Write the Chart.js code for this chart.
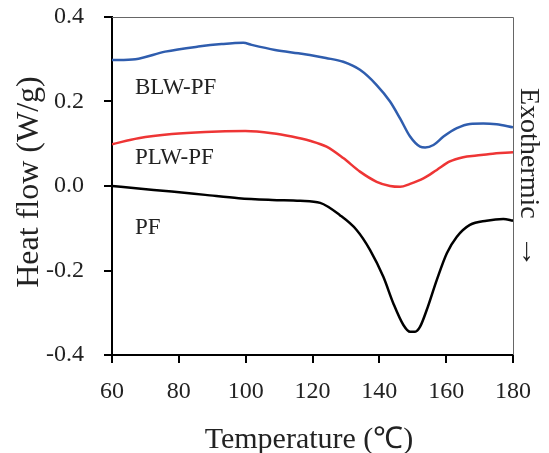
<!DOCTYPE html>
<html>
<head>
<meta charset="utf-8">
<script src="https://cdn.jsdelivr.net/npm/chart.js@4.4.1/dist/chart.umd.min.js"></script>
<style>
html,body{margin:0;padding:0;background:#fff;}
#c{display:block;}
</style>
</head>
<body>
<canvas id="c" width="549" height="453"></canvas>
<script>
// Temperature (°C) and heat flow (W/g)
const blwT = [60, 67, 75.9, 85.8, 92.8, 99.3, 101.8, 108.8, 115.8, 119.2, 124, 129.2, 134.2, 139.2, 143.2, 146.2, 149.2, 152.2, 153.7, 156.2, 159.2, 163.2, 167.1, 171.1, 175.1, 180];
const blwV = [0.298, 0.300, 0.318, 0.330, 0.336, 0.339, 0.334, 0.322, 0.314, 0.310, 0.303, 0.294, 0.275, 0.239, 0.200, 0.160, 0.117, 0.093, 0.091, 0.097, 0.117, 0.137, 0.147, 0.148, 0.146, 0.139];

const plwT = [60, 67.9, 77.9, 87.9, 99.9, 107.9, 113.8, 119.2, 124.2, 129.2, 134.2, 139.2, 143.2, 146.2, 149.2, 153.2, 157.2, 161.1, 165.1, 169.1, 173.1, 180];
const plwV = [0.099, 0.113, 0.123, 0.128, 0.130, 0.125, 0.117, 0.107, 0.093, 0.066, 0.034, 0.010, 0.000, -0.002, 0.005, 0.018, 0.038, 0.058, 0.068, 0.072, 0.076, 0.080];

const pfT = [60, 67.9, 77.9, 87.9, 97.9, 107.9, 116.3, 122.3, 128.2, 133.2, 137.2, 141.2, 144.2, 147.2, 149.2, 150.7, 152.2, 154.2, 157.2, 160.2, 163.2, 167.1, 172.1, 177.1, 180];
const pfV = [0.000, -0.006, -0.013, -0.021, -0.029, -0.033, -0.035, -0.040, -0.069, -0.104, -0.151, -0.215, -0.278, -0.329, -0.345, -0.345, -0.333, -0.293, -0.222, -0.159, -0.120, -0.092, -0.082, -0.078, -0.082];

const seriesNames = ['BLW-PF', 'PLW-PF', 'PF'];
const xTitle = 'Temperature (℃)';
const yTitle = 'Heat flow (W/g)';
const sideWord = 'Exothermic';
const sideArrow = '→';

function pts(ts, vs){ return ts.map((t,i)=>({x:t, y:vs[i]})); }

const SERIF = '"Liberation Serif", "Times New Roman", serif';

const annot = {
  id: 'annot',
  afterDraw(chart){
    const ctx = chart.ctx, a = chart.chartArea;
    ctx.save();
    // top and right frame
    ctx.strokeStyle = '#666';
    ctx.lineWidth = 1;
    ctx.beginPath();
    ctx.moveTo(a.left, a.top + 0.5);
    ctx.lineTo(a.right + 0.5, a.top + 0.5);
    ctx.lineTo(a.right + 0.5, a.bottom);
    ctx.stroke();

    ctx.fillStyle = '#222';
    // series labels
    ctx.font = '23px ' + SERIF;
    ctx.textAlign = 'left';
    ctx.textBaseline = 'alphabetic';
    ctx.fillText(seriesNames[0], 135, 94);
    ctx.fillText(seriesNames[1], 135, 164);
    ctx.fillText(seriesNames[2], 135, 234);

    // x title
    ctx.font = '30px ' + SERIF;
    ctx.textAlign = 'center';
    ctx.fillText(xTitle, 309, 448);

    // y title
    ctx.save();
    ctx.translate(38, 182);
    ctx.rotate(-Math.PI / 2);
    ctx.font = '32px ' + SERIF;
    ctx.textAlign = 'center';
    ctx.textBaseline = 'alphabetic';
    ctx.fillText(yTitle, 0, 0);
    ctx.restore();

    // side note
    ctx.save();
    ctx.translate(521, 88);
    ctx.rotate(Math.PI / 2);
    ctx.font = '28px ' + SERIF;
    ctx.textAlign = 'left';
    ctx.textBaseline = 'alphabetic';
    ctx.fillText(sideWord, 0, 0);
    ctx.textBaseline = 'middle';
    const w = ctx.measureText(sideArrow).width || 1;
    ctx.translate(147, -8);
    ctx.scale(33 / w, 1);
    ctx.fillText(sideArrow, 0, 0);
    ctx.restore();

    ctx.restore();
  }
};

new Chart(document.getElementById('c'), {
  type: 'line',
  data: {
    datasets: [
      {label: seriesNames[0], data: pts(blwT, blwV), borderColor: '#2F5DAE', borderWidth: 2.5, pointRadius: 0, cubicInterpolationMode: 'monotone', fill: false},
      {label: seriesNames[1], data: pts(plwT, plwV), borderColor: '#EE3535', borderWidth: 2.5, pointRadius: 0, cubicInterpolationMode: 'monotone', fill: false},
      {label: seriesNames[2], data: pts(pfT, pfV), borderColor: '#000000', borderWidth: 2.5, pointRadius: 0, cubicInterpolationMode: 'monotone', fill: false}
    ]
  },
  options: {
    responsive: false,
    animation: false,
    devicePixelRatio: 1,
    layout: {padding: {top: 17, right: 36, left: 0, bottom: 0}},
    plugins: {legend: {display: false}, tooltip: {enabled: false}},
    scales: {
      x: {
        type: 'linear', min: 60, max: 180,
        afterFit(s){ s.height = 98; s.paddingLeft = 0; s.paddingRight = 0; },
        ticks: {stepSize: 20, color: '#222', font: {family: SERIF, size: 24}, padding: 14, maxRotation: 0},
        grid: {drawOnChartArea: false, drawTicks: true, tickLength: 8, color: '#000', lineWidth: 2},
        border: {display: true, color: '#000', width: 2}
      },
      y: {
        type: 'linear', min: -0.4, max: 0.4,
        afterFit(s){ s.width = 112; s.paddingTop = 0; s.paddingBottom = 0; },
        ticks: {stepSize: 0.2, color: '#222', font: {family: SERIF, size: 24}, padding: 20,
          callback: v => (Math.abs(v) < 1e-9 ? 0 : v).toFixed(1)},
        grid: {drawOnChartArea: false, drawTicks: true, tickLength: 8, color: '#000', lineWidth: 2},
        border: {display: true, color: '#000', width: 2}
      }
    }
  },
  plugins: [annot]
});
</script>
</body>
</html>
